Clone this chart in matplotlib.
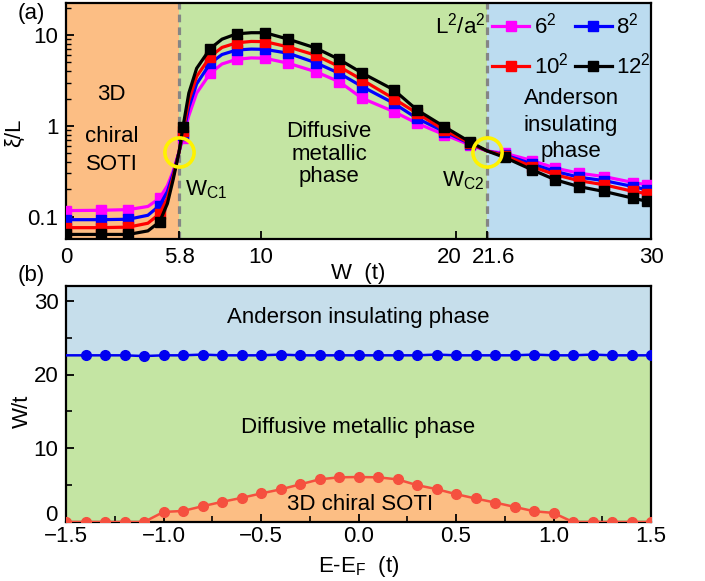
import matplotlib
matplotlib.use("Agg")
import matplotlib.pyplot as plt
from matplotlib.lines import Line2D
from matplotlib.transforms import ScaledTranslation
from matplotlib.ticker import FuncFormatter

plt.rcParams['font.family'] = ['Liberation Sans', 'DejaVu Sans']
plt.rcParams['mathtext.fontset'] = 'custom'
plt.rcParams['mathtext.rm'] = 'Liberation Sans'
plt.rcParams['mathtext.it'] = 'Liberation Sans:italic'
plt.rcParams['mathtext.bf'] = 'Liberation Sans:bold'
plt.rcParams['font.size'] = 16

# ---------------- panel (a) data ----------------
W = [0, 1.8, 3.2, 4.2, 4.8, 5.2, 5.5, 5.8, 6.0, 6.3, 6.7, 7.4, 8.0, 8.75, 9.5, 10.2,
     11.4, 12.8, 14.0, 15.2, 16.8, 18.0, 19.4, 20.7, 21.6, 22.5, 23.9, 25.1, 26.3,
     27.6, 29.1, 29.8, 30]
marker_W = [0, 1.8, 3.2, 4.8, 6.0, 7.4, 8.75, 10.2, 11.4, 12.8, 14.0, 15.2, 16.8,
            18.0, 19.4, 20.7, 22.5, 23.9, 25.1, 26.3, 27.6, 29.1, 29.8]

xi_6 = [0.117, 0.118, 0.120, 0.130, 0.160, 0.22, 0.32, 0.52, 0.74, 1.3, 2.3, 3.8, 4.8,
        5.4, 5.6, 5.55, 4.89, 3.95, 3.07, 2.01, 1.44, 1.07, 0.80, 0.62, 0.53, 0.50,
        0.416, 0.343, 0.302, 0.277, 0.238, 0.225, 0.222]
xi_8 = [0.093, 0.093, 0.094, 0.104, 0.133, 0.19, 0.30, 0.52, 0.80, 1.6, 2.9, 4.9, 6.1,
        6.84, 7.0, 6.96, 6.3, 4.96, 3.8, 2.7, 1.78, 1.21, 0.866, 0.64, 0.53, 0.48,
        0.382, 0.315, 0.273, 0.25, 0.215, 0.198, 0.196]
xi_10 = [0.076, 0.076, 0.077, 0.085, 0.108, 0.16, 0.28, 0.52, 0.87, 1.9, 3.5, 5.8, 7.3,
         8.2, 8.5, 8.45, 7.4, 6.0, 4.5, 3.2, 2.0, 1.38, 0.90, 0.65, 0.53, 0.47,
         0.357, 0.29, 0.25, 0.225, 0.19, 0.18, 0.178]
xi_12 = [0.064, 0.064, 0.064, 0.070, 0.088, 0.14, 0.26, 0.52, 0.98, 2.3, 4.3, 7.1, 9.0,
         10.3, 10.6, 10.6, 9.0, 7.2, 5.4, 3.8, 2.5, 1.5, 0.98, 0.67, 0.53, 0.45,
         0.329, 0.255, 0.215, 0.19, 0.16, 0.148, 0.146]
series_labels = ['6$^{\\mathrm{2}}$', '8$^{\\mathrm{2}}$', '10$^{\\mathrm{2}}$', '12$^{\\mathrm{2}}$']
series_colors = ['#FF00FF', '#0000FF', '#FF0000', '#000000']

Wc1, Wc2 = 5.8, 21.6
xticks_a = [0, 5.8, 10, 20, 21.6, 30]
xticklabels_a = ['0', '5.8', '10', '20', '21.6', '30']

# ---------------- panel (b) data ----------------
E = [-1.5, -1.4, -1.3, -1.2, -1.1, -1.0, -0.9, -0.8, -0.7, -0.6, -0.5, -0.4, -0.3,
     -0.2, -0.1, 0.0, 0.1, 0.2, 0.3, 0.4, 0.5, 0.6, 0.7, 0.8, 0.9, 1.0, 1.1, 1.2,
     1.3, 1.4, 1.5]
W_soti = [0, 0, 0, 0, 0, 1.36, 1.5, 2.14, 2.73, 3.27, 3.87, 4.42, 5.1, 5.78, 6.06,
          6.1, 6.06, 5.78, 5.0, 4.46, 3.78, 3.19, 2.64, 2.05, 1.46, 1.23, 0, 0, 0, 0, 0]
W_and = [22.6, 22.6, 22.6, 22.6, 22.5, 22.6, 22.6, 22.7, 22.6, 22.6, 22.6, 22.7, 22.6,
         22.6, 22.6, 22.6, 22.6, 22.6, 22.6, 22.7, 22.6, 22.6, 22.6, 22.6, 22.7, 22.6,
         22.6, 22.7, 22.6, 22.6, 22.6]

c_orange = '#FCBE84'
c_green = '#C4E5A3'
c_blue = '#BCDCF0'
c_blue_b = '#C6DEEB'

fig = plt.figure(figsize=(7.05, 5.81), dpi=100)
ax1 = fig.add_axes([66/705, 1-239/581, 585/705, 236/581])
ax2 = fig.add_axes([66/705, 1-522/581, 585/705, 236/581])

# ---------- panel (a) ----------
ax1.set_yscale('log')
ax1.set_xlim(0, 30)
ax1.set_ylim(0.057, 22.5)
ax1.axvspan(0, Wc1, color=c_orange, lw=0, zorder=0)
ax1.axvspan(Wc1, Wc2, color=c_green, lw=0, zorder=0)
ax1.axvspan(Wc2, 30, color=c_blue, lw=0, zorder=0)
for xv in (Wc1, Wc2):
    ax1.axvline(xv, color='#858585', ls=(0, (2.4, 1.6)), lw=2.3, zorder=1)

handles = []
for ys, lab, col in zip([xi_6, xi_8, xi_10, xi_12], series_labels, series_colors):
    idx = [W.index(m) for m in marker_W]
    ax1.plot(W, ys, color=col, lw=2.3, marker='s', ms=7.5, markevery=idx,
             zorder=3, label=lab)
    handles.append(Line2D([], [], color=col, lw=2.3, marker='s', ms=6.5, label=lab))

for xc in (Wc1, Wc2):
    ax1.plot(xc, 0.52, 'o', ms=21, mfc='none', mec='#FFF200', mew=2.6, zorder=6)

ax1.legend([handles[0], handles[2], handles[1], handles[3]],
           [series_labels[0], series_labels[2], series_labels[1], series_labels[3]],
           ncol=2, frameon=False, loc='upper right', bbox_to_anchor=(1.0, 0.958),
           borderaxespad=0, borderpad=0, handlelength=1.65, handletextpad=0.2,
           columnspacing=0.3, labelspacing=0.62, fontsize=16)
ax1.text(21.5, 10.3, 'L$^{\\mathrm{2}}$/a$^{\\mathrm{2}}$', ha='right', va='baseline')

ax1.text(2.35, 1.93, '3D', ha='center', va='baseline')
ax1.text(2.35, 0.672, 'chiral', ha='center', va='baseline')
ax1.text(2.35, 0.328, 'SOTI', ha='center', va='baseline')
ax1.text(13.5, 0.763, 'Diffusive', ha='center', va='baseline')
ax1.text(13.5, 0.423, 'metallic', ha='center', va='baseline')
ax1.text(13.5, 0.244, 'phase', ha='center', va='baseline')
ax1.text(25.9, 1.745, 'Anderson', ha='center', va='baseline')
ax1.text(25.9, 0.888, 'insulating', ha='center', va='baseline')
ax1.text(25.9, 0.46, 'phase', ha='center', va='baseline')
ax1.text(6.1, 0.174, 'W$_{\\mathrm{C1}}$', ha='left', va='baseline')
ax1.text(19.3, 0.215, 'W$_{\\mathrm{C2}}$', ha='left', va='baseline')

ax1.set_xticks(xticks_a, labels=xticklabels_a)
ax1.set_yticks([0.1, 1, 10], labels=['0.1', '1', '10'])
ax1.tick_params(axis='both', which='major', direction='in', length=6, width=1.3, pad=5.5,
                top=False, right=False)
ax1.tick_params(axis='y', which='minor', direction='in', length=3.5, width=1.0, right=False)
xl = ax1.get_xticklabels()
xl[3].set_transform(xl[3].get_transform() + ScaledTranslation(-0.07, 0, fig.dpi_scale_trans))
xl[4].set_transform(xl[4].get_transform() + ScaledTranslation(0.06, 0, fig.dpi_scale_trans))
ax1.set_xlabel('W  (t)')
ax1.xaxis.set_label_coords(0.5, -0.10)
ax1.set_ylabel('ξ/L')
ax1.yaxis.set_label_coords(-0.07, 0.45)
for s in ax1.spines.values():
    s.set_linewidth(1.6)

# ---------- panel (b) ----------
ax2.set_xlim(-1.5, 1.5)
ax2.set_ylim(0, 32)
ax2.fill_between(E, 0, W_soti, color=c_orange, lw=0, zorder=0)
ax2.fill_between(E, W_soti, W_and, color=c_green, lw=0, zorder=0)
ax2.fill_between(E, W_and, 32, color=c_blue_b, lw=0, zorder=0)
ax2.plot(E, W_and, color='#0000F0', lw=1.8, marker='o', ms=7, markevery=list(range(1, len(E))),
         zorder=3)
ax2.plot(E, W_soti, color='#F5503F', lw=1.8, marker='o', ms=7, zorder=3)

ax2.text(0.0, 26.96, 'Anderson insulating phase', ha='center', va='baseline')
ax2.text(0.0, 12.06, 'Diffusive metallic phase', ha='center', va='baseline')
ax2.text(0.01, 1.67, '3D chiral SOTI', ha='center', va='baseline')

ax2.set_xticks([-1.5, -1.0, -0.5, 0.0, 0.5, 1.0, 1.5])
ax2.set_xticks([-1.25, -0.75, -0.25, 0.25, 0.75, 1.25], minor=True)
ax2.set_yticks([0, 10, 20, 30])
ax2.set_yticks([5, 15, 25], minor=True)
ax2.xaxis.set_major_formatter(FuncFormatter(lambda v, p: ('%.1f' % v).replace('-', '\u2212')))
ax2.tick_params(axis='both', which='major', direction='in', length=6, width=1.3,
                top=False, right=False)
ax2.tick_params(axis='x', which='major', pad=3)
ax2.tick_params(axis='y', which='major', pad=5.5)
ax2.tick_params(axis='both', which='minor', direction='in', length=4, width=1.2,
                top=False, right=False)
yl = ax2.get_yticklabels()
yl[0].set_transform(yl[0].get_transform() + ScaledTranslation(-0.01, 0.09, fig.dpi_scale_trans))
ax2.set_xlabel('E-E$_{\\mathrm{F}}$  (t)')
ax2.xaxis.set_label_coords(0.5, -0.135)
ax2.set_ylabel('W/t')
ax2.yaxis.set_label_coords(-0.056, 0.47)
for s in ax2.spines.values():
    s.set_linewidth(1.6)

fig.text(31/705, 1-14/581, '(a)', ha='center', va='center')
fig.text(31/705, 1-275/581, '(b)', ha='center', va='center')

fig.savefig('out.png', dpi=100)
